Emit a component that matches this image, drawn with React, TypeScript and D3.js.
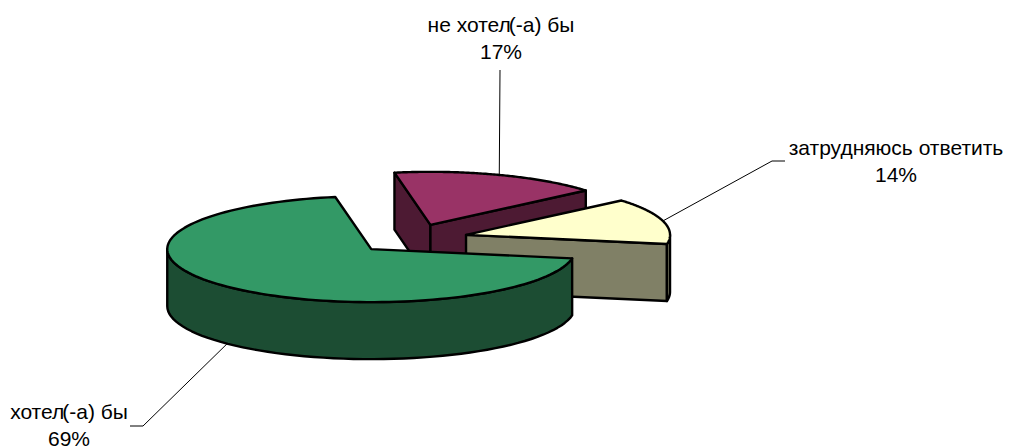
import { useEffect, useRef } from 'react';
import * as d3 from 'd3';

const categories = ['хотел(-а) бы', 'не хотел(-а) бы', 'затрудняюсь ответить'];
// labels show whole percents, the slices are a touch more exact
const shares = [69.4, 16.6, 14];
const topColors = ['#339966', '#993366', '#FFFFCC'];
const wallColors = ['#1C4D33', '#4D1A33', '#808066'];

// back to front
const drawOrder = [1, 2, 0];

const WIDTH = 1009;
const HEIGHT = 448;
const RX = 204;
const RY = 53;
const DEPTH = 57;
const EXPLODE = 0.278;
const CENTER = { x: 411.3, y: 238.7 };
const START_ANGLE = (100 * Math.PI) / 180;

type Pt = [number, number];

// label layout: text centre, baseline of the first line, leader bends
const labelLayout = [
  { x: 69, y: 419, bends: [[143, 426], [130, 426]] as Pt[], bottom: true },
  { x: 501, y: 32, bends: [[500, 70]] as Pt[], bottom: false },
  { x: 896, y: 155, bends: [[772, 161], [785, 161]] as Pt[], bottom: false },
];

export default function App() {
  const svgRef = useRef<SVGSVGElement>(null);

  useEffect(() => {
    if (!svgRef.current) return;
    const svg = d3.select(svgRef.current);
    svg.selectAll('*').remove();

    const arcs = d3.pie<number>()
      .sort(null)
      .startAngle(START_ANGLE)
      .endAngle(START_ANGLE + 2 * Math.PI)(shares);

    const line = d3.line();

    const slices = arcs.map((a) => {
      const mid = (a.startAngle + a.endAngle) / 2;
      const cx = CENTER.x + EXPLODE * RX * Math.sin(mid);
      const cy = CENTER.y - EXPLODE * RY * Math.cos(mid);
      const rim = (t: number, drop = 0): Pt => [
        cx + RX * Math.sin(t),
        cy - RY * Math.cos(t) + drop,
      ];
      return { a, mid, cx, cy, rim };
    });

    const drawPath = (d: string | null, fill: string) => {
      svg.append('path')
        .attr('d', d)
        .attr('fill', fill)
        .attr('stroke', '#000')
        .attr('stroke-width', 2.4)
        .attr('stroke-linejoin', 'round');
    };

    // leader lines sit under the pie
    slices.forEach((s, i) => {
      const layout = labelLayout[i];
      const start = s.rim(s.mid, layout.bottom ? DEPTH : 0);
      svg.append('path')
        .attr('d', line([start, ...layout.bends]))
        .attr('fill', 'none')
        .attr('stroke', '#000')
        .attr('stroke-width', 1);
    });

    drawOrder.forEach((i) => {
      const s = slices[i];
      const { startAngle: a0, endAngle: a1 } = s.a;
      const apex: Pt = [s.cx, s.cy];
      const wall = wallColors[i];

      // cut faces turned towards the viewer
      if (Math.sin(a0) < 0) {
        drawPath(line([apex, s.rim(a0), s.rim(a0, DEPTH), [s.cx, s.cy + DEPTH]]) + 'Z', wall);
      }
      if (Math.sin(a1) > 0) {
        drawPath(line([apex, s.rim(a1), s.rim(a1, DEPTH), [s.cx, s.cy + DEPTH]]) + 'Z', wall);
      }

      // outer wall: only the front half of the ellipse shows
      for (let k = 0; k < 2; k++) {
        const from = Math.max(a0, Math.PI / 2 + k * 2 * Math.PI);
        const to = Math.min(a1, (3 * Math.PI) / 2 + k * 2 * Math.PI);
        if (to <= from) continue;
        const ts = d3.range(0, 61).map((n) => from + ((to - from) * n) / 60);
        const pts = [...ts.map((t) => s.rim(t)), ...ts.reverse().map((t) => s.rim(t, DEPTH))];
        drawPath(line(pts) + 'Z', wall);
      }

      // top face
      const ts = d3.range(0, 121).map((n) => a0 + ((a1 - a0) * n) / 120);
      drawPath(line([apex, ...ts.map((t) => s.rim(t))]) + 'Z', topColors[i]);
    });

    // labels
    categories.forEach((name, i) => {
      const layout = labelLayout[i];
      const text = svg.append('text')
        .attr('text-anchor', 'middle')
        .attr('font-family', '"Liberation Sans", Arial, sans-serif')
        .attr('font-size', 21)
        .attr('fill', '#000');
      // the source squeezes the bracket against the preceding letter
      const cut = name.indexOf('(');
      const first = text.append('tspan').attr('x', layout.x).attr('y', layout.y);
      if (cut < 0) {
        first.text(name);
      } else {
        first.text(name.slice(0, cut));
        text.append('tspan').attr('dx', -2).text(name.slice(cut));
      }
      text.append('tspan')
        .attr('x', layout.x)
        .attr('y', layout.y + 27)
        .text(`${Math.round(shares[i])}%`);
    });
  }, []);

  return (
    <svg
      ref={svgRef}
      width={WIDTH}
      height={HEIGHT}
      style={{ position: 'absolute', left: 0, top: 0, background: '#fff' }}
    />
  );
}
